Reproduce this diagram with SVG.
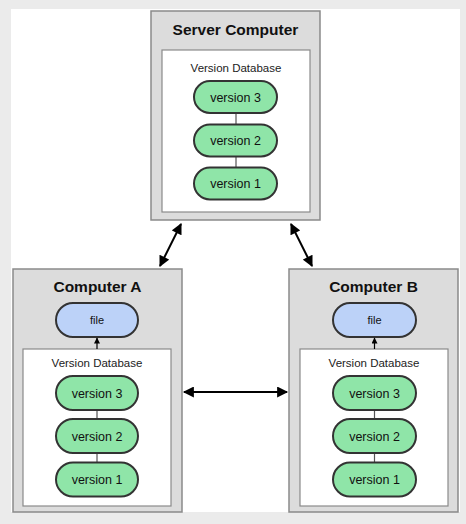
<svg xmlns="http://www.w3.org/2000/svg" width="466" height="524" viewBox="0 0 466 524">
<style>
.bg{fill:#ebebeb}
.page{fill:#ffffff}
.box{fill:#dcdcdc;stroke:#8a8a8a;stroke-width:1.5}
.db{fill:#ffffff;stroke:#8a8a8a;stroke-width:1.2}
.ver{fill:#8fe5a8;stroke:#333333;stroke-width:2}
.file{fill:#bcd2f8;stroke:#333333;stroke-width:2}
.link{stroke:#555555;stroke-width:1.2}
.title{font-family:"Liberation Sans",Arial,sans-serif;font-weight:bold;font-size:15.5px;fill:#111;text-anchor:middle}
.lbl{font-family:"Liberation Sans",Arial,sans-serif;font-size:11.5px;fill:#222;text-anchor:middle}
.vt{font-family:"Liberation Sans",Arial,sans-serif;font-size:12.5px;fill:#111;text-anchor:middle}
.ft{font-family:"Liberation Sans",Arial,sans-serif;font-size:11px;fill:#111;text-anchor:middle}
.arr{stroke:#000;stroke-width:2;fill:none}
</style>
<defs>
<marker id="ah" viewBox="0 0 10 10" refX="9" refY="5" markerWidth="6" markerHeight="5.5" orient="auto-start-reverse" markerUnits="strokeWidth">
<path d="M0,0 L10,5 L0,10 z" fill="#000"/>
</marker>
<marker id="sa" viewBox="0 0 10 10" refX="9" refY="5" markerWidth="7" markerHeight="6" orient="auto" markerUnits="userSpaceOnUse">
<path d="M0,0 L10,5 L0,10 z" fill="#000"/>
</marker>
</defs>
<rect class="bg" x="0" y="0" width="466" height="524"/>
<rect class="page" x="11" y="9" width="449" height="503"/>

<g id="server">
<rect class="box" x="151" y="11" width="169" height="209"/>
<text class="title" x="235.5" y="35">Server Computer</text>
<rect class="db" x="162" y="50" width="148" height="162"/>
<text class="lbl" x="236" y="72">Version Database</text>
<line class="link" x1="236" y1="113" x2="236" y2="124"/>
<line class="link" x1="236" y1="157" x2="236" y2="167"/>
<rect class="ver" x="194" y="81" width="83" height="32" rx="16"/>
<text class="vt" x="235.5" y="101.5">version 3</text>
<rect class="ver" x="194" y="124.5" width="83" height="32" rx="16"/>
<text class="vt" x="235.5" y="145">version 2</text>
<rect class="ver" x="194" y="167.5" width="83" height="32" rx="16"/>
<text class="vt" x="235.5" y="188">version 1</text>
</g>

<g id="computerA">
<rect class="box" x="13" y="269" width="169" height="243"/>
<text class="title" x="97.5" y="292">Computer A</text>
<rect class="file" x="56" y="303" width="82" height="34" rx="17"/>
<text class="ft" x="97" y="324">file</text>
<rect class="db" x="23" y="349" width="148" height="157"/>
<text class="lbl" x="97" y="367">Version Database</text>
<line class="link" x1="97" y1="410" x2="97" y2="419"/>
<line class="link" x1="97" y1="453" x2="97" y2="463"/>
<rect class="ver" x="56" y="376" width="82" height="34" rx="17"/>
<text class="vt" x="97" y="397.5">version 3</text>
<rect class="ver" x="56" y="419" width="82" height="34" rx="17"/>
<text class="vt" x="97" y="440.5">version 2</text>
<rect class="ver" x="56" y="462.5" width="82" height="34" rx="17"/>
<text class="vt" x="97" y="484">version 1</text>
</g>

<g id="computerB">
<rect class="box" x="289" y="269" width="169" height="243"/>
<text class="title" x="373.5" y="292">Computer B</text>
<rect class="file" x="333" y="303" width="83" height="34" rx="17"/>
<text class="ft" x="374.5" y="324">file</text>
<rect class="db" x="300" y="349" width="148" height="157"/>
<text class="lbl" x="374" y="367">Version Database</text>
<line class="link" x1="374.5" y1="410" x2="374.5" y2="419"/>
<line class="link" x1="374.5" y1="453" x2="374.5" y2="463"/>
<rect class="ver" x="333" y="376" width="83" height="34" rx="17"/>
<text class="vt" x="374.5" y="397.5">version 3</text>
<rect class="ver" x="333" y="419" width="83" height="34" rx="17"/>
<text class="vt" x="374.5" y="440.5">version 2</text>
<rect class="ver" x="333" y="462.5" width="83" height="34" rx="17"/>
<text class="vt" x="374.5" y="484">version 1</text>
</g>

<g id="connectors">
<line class="arr" x1="181" y1="224" x2="160" y2="266" marker-start="url(#ah)" marker-end="url(#ah)"/>
<line class="arr" x1="291" y1="224" x2="312" y2="266" marker-start="url(#ah)" marker-end="url(#ah)"/>
<line class="arr" x1="184" y1="392" x2="287" y2="392" marker-start="url(#ah)" marker-end="url(#ah)"/>
<line stroke="#000" stroke-width="1.2" x1="97" y1="349" x2="97" y2="338" marker-end="url(#sa)"/>
<line stroke="#000" stroke-width="1.2" x1="374.5" y1="349" x2="374.5" y2="338" marker-end="url(#sa)"/>
</g>
</svg>
